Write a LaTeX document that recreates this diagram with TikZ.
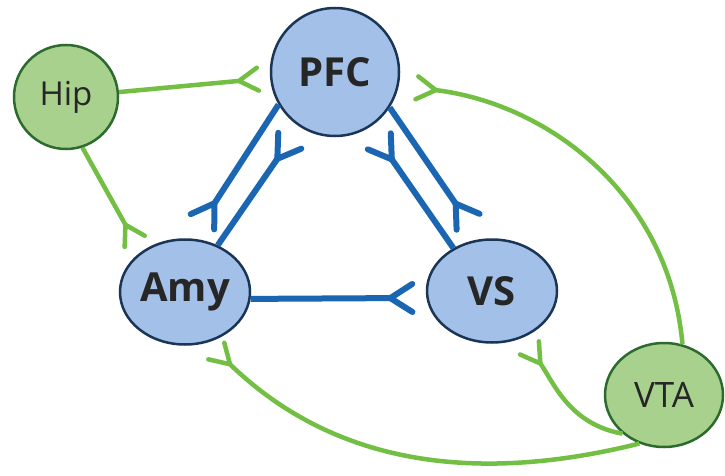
\documentclass[tikz,border=0pt]{standalone}
\usepackage{fontspec}
\setmainfont{Open Sans}
\usetikzlibrary{arrows.meta,shapes.geometric}
\definecolor{bfill}{HTML}{A3C1E8}
\definecolor{bborder}{HTML}{1B3557}
\definecolor{bline}{HTML}{1A66B3}
\definecolor{gfill}{HTML}{A9D18E}
\definecolor{gborder}{HTML}{2D6A2E}
\definecolor{gline}{HTML}{72BF44}
\begin{document}
\begin{tikzpicture}[x=1pt,y=1pt,
  bnode/.style={draw=bborder, fill=bfill, line width=2.5pt, inner sep=0pt,
    font=\fontsize{40}{40}\selectfont\bfseries, text=black!85},
  gnode/.style={draw=gborder, fill=gfill, line width=2.5pt, inner sep=0pt,
    text=black!85},
  bedge/.style={draw=bline, line width=6pt,
    -{Straight Barb[reversed,round,length=22pt,width=28pt]}},
  gedge/.style={draw=gline, line width=4.5pt,
    -{Straight Barb[reversed,round,length=19pt,width=23pt]}}]
\useasboundingbox (0,0) rectangle (725,475);
\node[bnode, circle, minimum size=128pt] (PFC) at (335,403) {PFC};
\node[gnode, circle, minimum size=104pt, font=\fontsize{33}{33}\selectfont] (Hip) at (66,378) {Hip};
\node[bnode, ellipse, minimum width=130pt, minimum height=105pt] (Amy) at (185,183) {Amy};
\node[bnode, ellipse, minimum width=130pt, minimum height=103pt] (VS) at (492,184) {VS};
\node[gnode, ellipse, minimum width=118pt, minimum height=104pt, font=\fontsize{35}{35}\selectfont] (VTA) at (664,80) {VTA};
% green
\draw[gedge, shorten >=10pt] (Hip) -- (PFC);
\draw[gedge, shorten >=10pt] (Hip.-72) -- (Amy.138);
\draw[gedge, shorten >=16pt] (VTA.70) to[out=95,in=-7] (PFC.-12);
\draw[gedge, shorten >=10pt] (VTA.223) to[out=170,in=-55] (VS.-57);
\draw[gedge, shorten >=10pt] (VTA.243) to[out=194,in=-44] (Amy.-66);
% blue
\draw[bedge, shorten >=17pt] (PFC.210) -- (Amy.83);
\draw[bedge, shorten >=14pt] (Amy.55) -- (PFC.237);
\draw[bedge, shorten >=18pt] (PFC.-33) -- (VS.103);
\draw[bedge, shorten >=14pt] (VS.132) -- (PFC.-58);
\draw[bedge, shorten >=11pt] (Amy.-6) -- (VS.186);
\end{tikzpicture}
\end{document}
